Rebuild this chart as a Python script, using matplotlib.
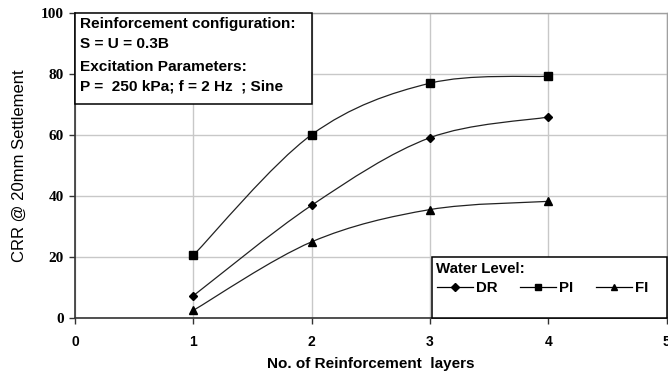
import matplotlib
matplotlib.use("Agg")
import matplotlib.pyplot as plt
import numpy as np
from matplotlib.path import Path
from matplotlib.patches import PathPatch, Rectangle
from matplotlib.lines import Line2D

# ---- data ----
layers = [1, 2, 3, 4]
dr = [7.3, 37.0, 59.2, 66.0]
pi = [20.6, 60.2, 77.1, 79.4]
fi = [2.5, 25.0, 35.6, 38.3]
series_names = ["DR", "PI", "FI"]
x_ticks = [0, 1, 2, 3, 4, 5]
y_ticks = [0, 20, 40, 60, 80, 100]
info_lines = ["Reinforcement configuration:", "S = U = 0.3B",
              "Excitation Parameters:", "P =  250 kPa; f = 2 Hz  ; Sine"]

plt.rcParams['font.family'] = ['Liberation Sans', 'DejaVu Sans']

fig = plt.figure(figsize=(6.68, 3.79), dpi=100)
ax = fig.add_axes([0.1123, 0.161, 0.8855, 0.8034])


def smooth_path(xs, ys):
    """Catmull-Rom style Bezier smoothing (like spreadsheet smoothed lines)."""
    pts = np.column_stack([xs, ys]).astype(float)
    n = len(pts)
    verts = [pts[0]]
    codes = [Path.MOVETO]
    for i in range(n - 1):
        p0 = pts[i - 1] if i > 0 else pts[i]
        p1 = pts[i]
        p2 = pts[i + 1]
        p3 = pts[i + 2] if i + 2 < n else pts[i + 1]
        c1 = p1 + (p2 - p0) / 6.0
        c2 = p2 - (p3 - p1) / 6.0
        verts += [c1, c2, p2]
        codes += [Path.CURVE4] * 3
    return Path(verts, codes)


markers = ["D", "s", "^"]
msizes = [4.3, 5.5, 6.0]
leg_sizes = [3.8, 4.5, 5.0]
handles = []
for ys, m, ms, lms, name in zip([dr, pi, fi], markers, msizes, leg_sizes, series_names):
    ax.add_patch(PathPatch(smooth_path(layers, ys), facecolor="none",
                           edgecolor="#222222", lw=0.9, zorder=3))
    ax.plot(layers, ys, linestyle="none", marker=m, markersize=ms,
            color="black", zorder=4)
    handles.append(Line2D([], [], color="black", lw=0.9, marker=m,
                          markersize=lms, label=name))

ax.set_xlim(0, 5)
ax.set_ylim(0, 100)
ax.set_xticks(x_ticks)
ax.set_yticks(y_ticks)
ax.grid(True, color="#c8c8c8", lw=1.0, zorder=0)
ax.set_axisbelow(True)

for s in ["top", "right"]:
    ax.spines[s].set_color("#a0a0a0")
    ax.spines[s].set_linewidth(1.0)
for s in ["left", "bottom"]:
    ax.spines[s].set_color("#333333")
    ax.spines[s].set_linewidth(1.2)

ax.tick_params(axis="both", direction="out", length=4, width=1, color="#333333")
for lab in ax.get_yticklabels():
    lab.set_fontfamily("Liberation Serif")
    lab.set_fontweight("bold")
    lab.set_fontsize(11)
for lab in ax.get_xticklabels():
    lab.set_fontweight("bold")
    lab.set_fontsize(10)
ax.tick_params(axis="y", pad=4)
ax.tick_params(axis="x", pad=8)

ax.set_xlabel("No. of Reinforcement  layers", fontsize=11, fontweight="bold",
              labelpad=6)
ax.set_ylabel("CRR @ 20mm Settlement", fontsize=12, labelpad=10)

# info box
ax.add_patch(Rectangle((0.0, 0.703), 0.400, 0.297, transform=ax.transAxes,
                       facecolor="white", edgecolor="black", lw=1.1, zorder=5,
                       clip_on=False))
line_y = [0.964, 0.901, 0.824, 0.759]
for t, yy in zip(info_lines, line_y):
    ax.text(0.009, yy, t, transform=ax.transAxes, fontsize=11.1,
            fontweight="bold", va="center", ha="left", zorder=6)

# legend box
ax.add_patch(Rectangle((0.603, 0.0), 0.397, 0.201, transform=ax.transAxes,
                       facecolor="white", edgecolor="black", lw=1.1, zorder=5,
                       clip_on=False))
ax.text(0.610, 0.160, "Water Level:", transform=ax.transAxes, fontsize=10.8,
        fontweight="bold", va="center", ha="left", zorder=6)
leg = ax.legend(handles=handles, ncol=3, frameon=False, loc="center left",
                bbox_to_anchor=(0.612, 0.097), prop={"weight": "bold", "size": 10.8},
                handlelength=2.4, handletextpad=0.2, columnspacing=1.5,
                borderpad=0.0, borderaxespad=0.0)
leg.set_zorder(7)

fig.savefig("out.png", dpi=100)
